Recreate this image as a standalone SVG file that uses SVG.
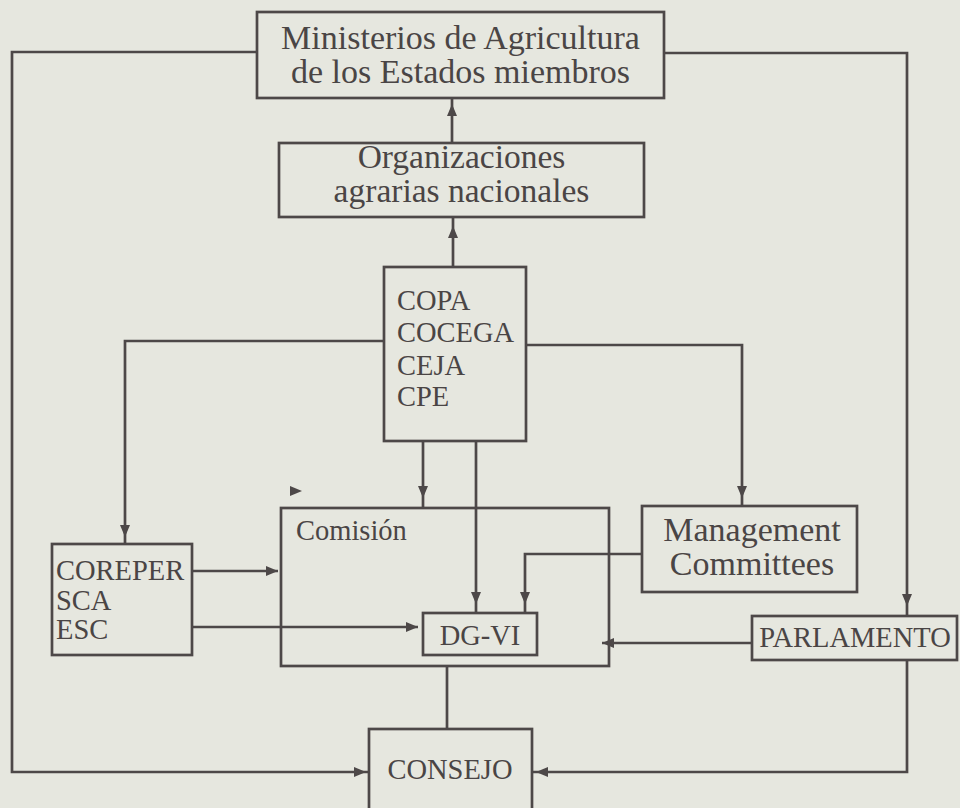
<svg xmlns="http://www.w3.org/2000/svg" xmlns:xlink="http://www.w3.org/1999/xlink" width="960" height="808" viewBox="0 0 960 808">
<style>
.bx{fill:none;stroke:#4d4848;stroke-width:2.7}
.cn{fill:none;stroke:#4d4848;stroke-width:2.7}
.ah{fill:#4d4848}
text{font-family:"Liberation Serif","Times New Roman",serif;fill:#4a4545}
.big{font-size:34px}
.mid{font-size:33.5px}
.sm{font-size:28.5px}
.c{text-anchor:middle}
</style>
<defs>
<path id="ah" d="M0,0 L-12,-5 L-12,5 Z"/>
</defs>
<rect x="0" y="0" width="960" height="808" fill="#e6e7df"/>
<g id="connectors">
<path class="cn" d="M257,52 H12 V772 H369"/>
<path class="cn" d="M664,53 H907 V616"/>
<path class="cn" d="M452,143 V98"/>
<path class="cn" d="M453,267 V217"/>
<path class="cn" d="M384,341 H125 V544"/>
<path class="cn" d="M526,345 H742 V507"/>
<path class="cn" d="M423,441 V508"/>
<path class="cn" d="M476,441 V613"/>
<path class="cn" d="M642,554 H525 V613"/>
<path class="cn" d="M192,571 H278"/>
<path class="cn" d="M192,627 H418"/>
<path class="cn" d="M752,643 H602"/>
<path class="cn" d="M907,660 V772 H532"/>
<path class="cn" d="M447,666 V729"/>
<g class="ah">
<use xlink:href="#ah" transform="translate(452,104) rotate(-90)"/>
<use xlink:href="#ah" transform="translate(453,226) rotate(-90)"/>
<use xlink:href="#ah" transform="translate(125,537) rotate(90)"/>
<use xlink:href="#ah" transform="translate(423,498) rotate(90)"/>
<use xlink:href="#ah" transform="translate(476,604) rotate(90)"/>
<use xlink:href="#ah" transform="translate(742,498) rotate(90)"/>
<use xlink:href="#ah" transform="translate(525,604) rotate(90)"/>
<use xlink:href="#ah" transform="translate(907,606) rotate(90)"/>
<use xlink:href="#ah" transform="translate(278,571)"/>
<use xlink:href="#ah" transform="translate(418,627)"/>
<use xlink:href="#ah" transform="translate(602,643) rotate(180)"/>
<use xlink:href="#ah" transform="translate(366,772)"/>
<use xlink:href="#ah" transform="translate(536,772) rotate(180)"/>
<use xlink:href="#ah" transform="translate(302,491)"/>
</g>
</g>
<g id="ministerios">
<rect class="bx" x="257" y="12" width="407" height="86"/>
<text class="big c" x="460.5" y="49">Ministerios de Agricultura</text>
<text class="big c" x="460.5" y="83">de los Estados miembros</text>
</g>
<g id="organizaciones">
<rect class="bx" x="279" y="143" width="365" height="74"/>
<text class="mid c" x="461.5" y="168">Organizaciones</text>
<text class="mid c" x="461.5" y="202">agrarias nacionales</text>
</g>
<g id="copa">
<rect class="bx" x="384" y="267" width="142" height="174"/>
<text class="sm" x="397" y="310">COPA</text>
<text class="sm" x="397" y="342">COCEGA</text>
<text class="sm" x="397" y="375">CEJA</text>
<text class="sm" x="397" y="406">CPE</text>
</g>
<g id="comision">
<rect class="bx" x="281" y="508" width="328" height="158"/>
<text class="sm" x="296" y="540">Comisión</text>
</g>
<g id="management">
<rect class="bx" x="642" y="506" width="215" height="86"/>
<text class="big c" x="752" y="541">Management</text>
<text class="big c" x="752" y="575">Committees</text>
</g>
<g id="coreper">
<rect class="bx" x="52" y="544" width="140" height="111"/>
<text class="sm" x="56" y="580">COREPER</text>
<text class="sm" x="56" y="610">SCA</text>
<text class="sm" x="56" y="639">ESC</text>
</g>
<g id="dgvi">
<rect class="bx" x="423" y="613" width="114" height="42"/>
<text class="sm c" x="480" y="645">DG-VI</text>
</g>
<g id="parlamento">
<rect class="bx" x="752" y="616" width="205" height="44"/>
<text class="sm c" x="855" y="647">PARLAMENTO</text>
</g>
<g id="consejo">
<rect class="bx" x="369" y="729" width="163" height="90"/>
<text class="sm c" x="450" y="779">CONSEJO</text>
</g>
</svg>
